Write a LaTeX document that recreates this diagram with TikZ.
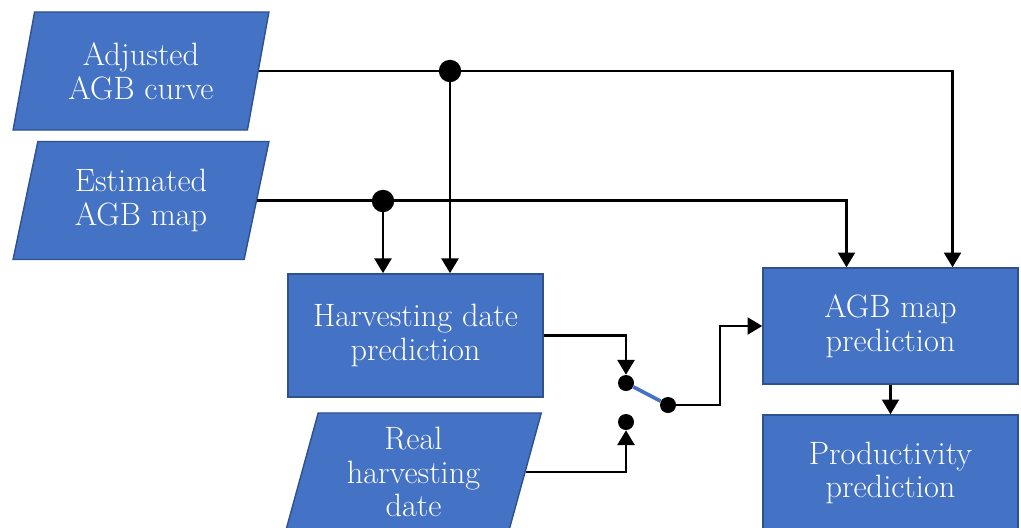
\documentclass[tikz,border=0pt]{standalone}
\usepackage{tikz}
\usetikzlibrary{arrows.meta,shapes.geometric,calc}
\definecolor{boxblue}{RGB}{68,114,196}
\definecolor{edgeblue}{RGB}{47,82,143}

\begin{document}
\begin{tikzpicture}[x=0.025cm,y=-0.025cm,
  font=\fontsize{23}{24}\selectfont,
  proc/.style={rectangle,draw=edgeblue,line width=1pt,fill=boxblue,text=white,align=center,minimum width=6.375cm,inner sep=2pt},
  data/.style={trapezium,trapezium left angle=76,trapezium right angle=104,trapezium stretches=true,draw=edgeblue,line width=1pt,fill=boxblue,text=white,align=center,minimum width=6.4cm,minimum height=2.95cm,inner sep=1pt},
  link/.style={line width=2pt,-{Triangle[width=12pt,length=10.5pt]}},
  bigdot/.style={circle,fill=black,inner sep=0pt,minimum size=0.56cm},
  smalldot/.style={circle,fill=black,inner sep=0pt,minimum size=0.4cm}]
\useasboundingbox (0,0) rectangle (1021,527);

% inputs and processing steps
\node[data] (adj) at (141,71) {Adjusted\\AGB curve};
\node[data] (est) at (141,200.5) {Estimated\\AGB map};
\node[proc,minimum height=3.08cm] (hdp) at (415.5,335.5) {Harvesting date\\prediction};
\node[data] (real) at (413.5,472) {Real\\harvesting\\date};
\node[proc,minimum height=2.9cm] (agb) at (890.5,326) {AGB map\\prediction};
\node[proc,minimum height=2.9cm] (prod) at (890.5,473) {Productivity\\prediction};

% junctions and switch
\node[bigdot] (jA) at (450,71) {};
\node[bigdot] (jB) at (383,201) {};
\node[smalldot] (s1) at (626,383) {};
\node[smalldot] (s2) at (626,422) {};
\node[smalldot] (s3) at (668,405) {};
\coordinate (bend) at (720,405);

\draw[link] (adj.east) -| ([xshift=1.55cm]agb.north);
\draw[link] (jA) -- (jA |- hdp.north);
\draw[link] (est.east) -| ([xshift=-1.1cm]agb.north);
\draw[link] (jB) -- (jB |- hdp.north);
\draw[link] (hdp.east) -| (s1);
\draw[link] (real.east) -| (s2);
\draw[boxblue,line width=2.6pt] (s1) -- (s3);
\draw[link] (s3) -- (bend) |- (agb.west);
\draw[link] (agb) -- (prod);
\end{tikzpicture}
\end{document}
